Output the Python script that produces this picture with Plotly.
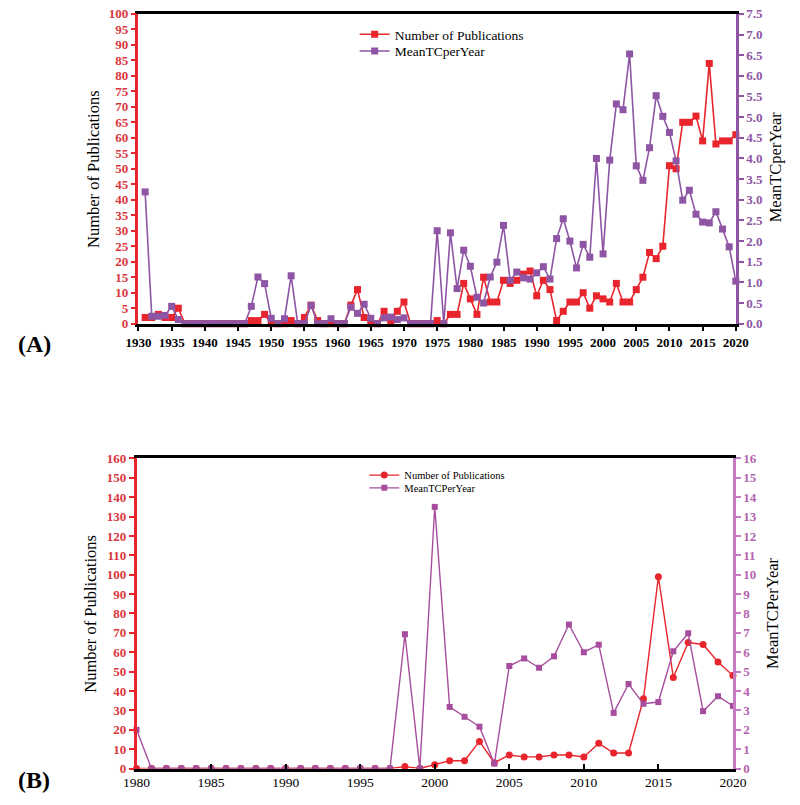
import plotly.graph_objects as go

# ---------------- Panel A data ----------------
years_A = list(range(1931, 2021))
pubs_A = [2, 2, 3, 2, 2, 5,
          0, 0, 0, 0, 0, 0, 0, 0, 0, 0,
          1, 1, 3, 0, 0, 0, 1, 0, 2, 6, 1, 0, 0, 0,
          0, 6, 11, 2, 0, 0, 4, 1, 4, 7,
          0, 0, 0, 0, 1, 0, 3, 3, 13, 8,
          3, 15, 7, 7, 14, 13, 14, 16, 17, 9,
          14, 11, 1, 4, 7, 7, 10, 5, 9, 8,
          7, 13, 7, 7, 11, 15, 23, 21, 25, 51,
          50, 65, 65, 67, 59, 84, 58, 59, 59, 61]
mean_A = [3.19, 0.18, 0.18, 0.20, 0.42, 0.10,
          0, 0, 0, 0, 0, 0, 0, 0, 0, 0,
          0.42, 1.13, 0.97, 0.13, 0, 0.12, 1.16, 0, 0, 0.44, 0, 0, 0.12, 0,
          0, 0.40, 0.25, 0.47, 0.13, 0, 0.14, 0.16, 0.10, 0.14,
          0, 0, 0, 0, 2.25, 0, 2.20, 0.85, 1.78, 1.39,
          0.64, 0.50, 1.13, 1.49, 2.38, 1.05, 1.25, 1.11, 1.08, 1.23,
          1.38, 1.08, 2.06, 2.54, 2.00, 1.35, 1.92, 1.61, 4.00, 1.69,
          3.96, 5.32, 5.18, 6.53, 3.82, 3.47, 4.26, 5.52, 5.02, 4.63,
          3.94, 2.99, 3.23, 2.65, 2.46, 2.44, 2.71, 2.29, 1.86, 1.03]

# ---------------- Panel B data ----------------
years_B = list(range(1980, 2021))
pubs_B = [0, 0, 0, 0, 0, 0, 0, 0, 0, 0, 0, 0, 0, 0, 0, 0, 0, 0,
          1, 0, 2, 4, 4, 14, 3, 7, 6, 6, 7, 7, 6, 13, 8, 8, 36, 99,
          47, 65, 64, 55, 48]
mean_B = [2.0, 0, 0, 0, 0, 0, 0, 0, 0, 0, 0, 0, 0, 0, 0, 0, 0, 0,
          6.93, 0, 13.5, 3.18, 2.67, 2.16, 0.25, 5.29, 5.68, 5.20, 5.79, 7.43,
          6.00, 6.39, 2.87, 4.36, 3.34, 3.43, 6.05, 6.98, 2.96, 3.73, 3.23]

RED = "#e8242c"
RED_T = "#d9363e"
PURP_A = "#8d55a3"
PURP_B = "#a64d9e"
PURP_B_AX = "#c77ac4"
SERIF = "Liberation Serif, Times New Roman, serif"

W, H = 800, 805
def px(x):
    return x / W
def py(y):
    return 1 - y / H

fig = go.Figure()

fig.add_trace(go.Scatter(x=years_A, y=pubs_A, name="Number of Publications",
                         mode="lines+markers", line=dict(color=RED, width=1.6),
                         marker=dict(symbol="square", size=7, color=RED),
                         xaxis="x", yaxis="y", legend="legend", cliponaxis=False))
fig.add_trace(go.Scatter(x=years_A, y=mean_A, name="MeanTCperYear",
                         mode="lines+markers", line=dict(color=PURP_A, width=1.6),
                         marker=dict(symbol="square", size=7, color=PURP_A),
                         xaxis="x", yaxis="y2", legend="legend2", cliponaxis=False))
fig.add_trace(go.Scatter(x=years_B, y=pubs_B, name="Number of Publications",
                         mode="lines+markers", line=dict(color=RED, width=1.4),
                         marker=dict(symbol="circle", size=7, color=RED),
                         xaxis="x2", yaxis="y3", legend="legend3", cliponaxis=False))
fig.add_trace(go.Scatter(x=years_B, y=mean_B, name="MeanTCPerYear",
                         mode="lines+markers", line=dict(color=PURP_B, width=1.4),
                         marker=dict(symbol="square", size=6, color=PURP_B),
                         xaxis="x2", yaxis="y4", legend="legend4", cliponaxis=False))

domA_x = [px(129), px(748)]
domA_y = [py(322.7), py(7)]
domB_x = [px(127), px(745)]
domB_y = [py(776), py(460)]

def tick_bold(c, s=13):
    return dict(family=SERIF, size=s, color=c, weight="bold")

def leg(x, y, size):
    return dict(x=px(x), y=py(y), xanchor="left", yanchor="middle",
                bgcolor="rgba(0,0,0,0)", font=dict(family=SERIF, size=size, color="black"),
                itemwidth=30, tracegroupgap=0)

fig.update_layout(
    width=W, height=H,
    margin=dict(l=0, r=0, t=0, b=0),
    paper_bgcolor="white", plot_bgcolor="white",
    font=dict(family=SERIF, color="black"),
    xaxis=dict(domain=domA_x, anchor="y", range=[1930, 2020], dtick=5, tick0=1930,
               showgrid=False, zeroline=False, showline=True, linecolor="black",
               linewidth=2.5, mirror=True, ticks="outside", ticklen=5, tickwidth=2,
               tickcolor="black", tickfont=tick_bold("black", 13)),
    yaxis=dict(domain=domA_y, anchor="x", range=[0, 100], dtick=5,
               showgrid=False, zeroline=False, showline=True, linecolor=RED,
               linewidth=2.5, ticks="outside", ticklen=5, tickwidth=2, tickcolor=RED,
               tickfont=tick_bold(RED_T, 13)),
    yaxis2=dict(anchor="x", overlaying="y", side="right", range=[0, 7.5], dtick=0.5,
                tickformat=".1f", showgrid=False, zeroline=False, showline=True,
                linecolor=PURP_A, linewidth=2.5, ticks="outside", ticklen=5, tickwidth=2,
                tickcolor=PURP_A, tickfont=tick_bold(PURP_A, 13)),
    xaxis2=dict(domain=domB_x, anchor="y3", range=[1980, 2020], dtick=5, tick0=1980,
                showgrid=False, zeroline=False, showline=True, linecolor="black",
                linewidth=2.5, mirror=True, ticks="inside", ticklen=5, tickwidth=2,
                tickcolor="black", tickfont=dict(family=SERIF, size=13.5, color="black")),
    yaxis3=dict(domain=domB_y, anchor="x2", range=[0, 160], dtick=10,
                showgrid=False, zeroline=False, showline=True, linecolor=RED,
                linewidth=2.5, ticks="outside", ticklen=5, tickwidth=2, tickcolor=RED,
                tickfont=tick_bold(RED_T, 13)),
    yaxis4=dict(anchor="x2", overlaying="y3", side="right", range=[0, 16], dtick=1,
                showgrid=False, zeroline=False, showline=True, linecolor=PURP_B_AX,
                linewidth=2.5, ticks="outside", ticklen=5, tickwidth=2,
                tickcolor=PURP_B_AX, tickfont=tick_bold("#b463ae", 13)),
    legend=leg(353, 28, 13.5),
    legend2=leg(353, 45, 13.5),
    legend3=leg(363, 477, 10.5),
    legend4=leg(363, 490, 10.5),
    showlegend=True,
)

annots = [
    dict(text="Number of Publications", x=px(83), y=py(165)),
    dict(text="MeanTCperYear", x=px(790), y=py(163)),
    dict(text="Number of Publications", x=px(79), y=py(618)),
    dict(text="MeanTCPerYear", x=px(786), y=py(617)),
]
for a in annots:
    fig.add_annotation(text=a["text"], x=a["x"], y=a["y"], xref="paper", yref="paper",
                       textangle=-90, showarrow=False, xanchor="center",
                       yanchor="middle", font=dict(family=SERIF, size=16.5, color="black"))
fig.add_annotation(text="<b>(A)</b>", x=px(2), y=py(343), xref="paper", yref="paper",
                   showarrow=False, xanchor="left", yanchor="middle",
                   font=dict(family=SERIF, size=24, color="black"))
fig.add_annotation(text="<b>(B)</b>", x=px(2), y=0.002, xref="paper", yref="paper",
                   showarrow=False, xanchor="left", yanchor="bottom",
                   font=dict(family=SERIF, size=24, color="black"))

fig.write_html("out.html", config={"displayModeBar": False},
               post_script="document.body.style.margin='0px';")
